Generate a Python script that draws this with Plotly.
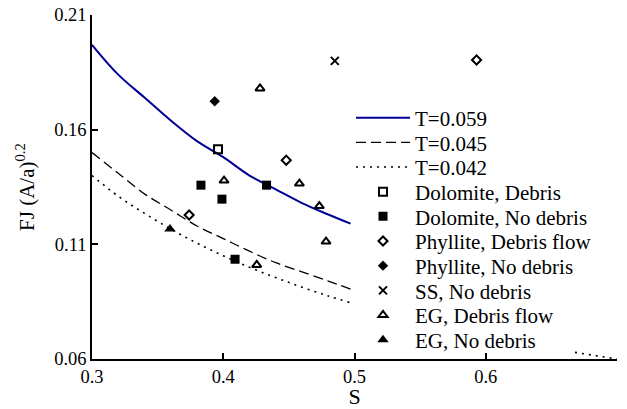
import plotly.graph_objects as go

# ---- data ----
S_curve = [0.300, 0.320, 0.340, 0.360, 0.380, 0.400, 0.420, 0.440, 0.460, 0.480, 0.497]
FJ_T059 = [0.197, 0.184, 0.174, 0.164, 0.155, 0.148, 0.140, 0.134, 0.128, 0.123, 0.119]
FJ_T045 = [0.150, 0.141, 0.132, 0.125, 0.118, 0.1125, 0.107, 0.102, 0.098, 0.094, 0.0905]
S_T042 = [0.300, 0.320, 0.340, 0.360, 0.380, 0.400, 0.420, 0.440, 0.460, 0.480, 0.497, None, 0.668, 0.700]
FJ_T042 = [0.140, 0.131, 0.1235, 0.1167, 0.1105, 0.105, 0.100, 0.0955, 0.0913, 0.0875, 0.0845, None, 0.0629, 0.0600]

dol_deb_S = [0.396]
dol_deb_FJ = [0.1515]
dol_nod_S = [0.383, 0.433, 0.399, 0.409]
dol_nod_FJ = [0.1358, 0.1358, 0.1297, 0.1035]
phy_deb_S = [0.448, 0.374, 0.593]
phy_deb_FJ = [0.1467, 0.1228, 0.1904]
phy_nod_S = [0.3935]
phy_nod_FJ = [0.1724]
ss_nod_S = [0.485]
ss_nod_FJ = [0.190]
eg_deb_S = [0.428, 0.4006, 0.458, 0.4732, 0.4783, 0.4255]
eg_deb_FJ = [0.178, 0.1378, 0.1365, 0.1267, 0.1112, 0.101]
eg_nod_S = [0.3594]
eg_nod_FJ = [0.1167]

x_ticks = [0.3, 0.4, 0.5, 0.6, 0.7]
y_ticks = [0.06, 0.11, 0.16, 0.21]

FONT = "Liberation Serif"
BLUE = "#000096"

fig = go.Figure()

legend_ids = ["legend"] + ["legend%d" % i for i in range(2, 11)]

series = [
    dict(x=S_curve, y=FJ_T059, name="T=0.059", mode="lines",
         line=dict(color=BLUE, width=2, shape="spline")),
    dict(x=S_curve, y=FJ_T045, name="T=0.045", mode="lines",
         line=dict(color="black", width=1.3, dash="10px,5px", shape="spline")),
    dict(x=S_T042, y=FJ_T042, name="T=0.042", mode="lines",
         line=dict(color="black", width=1.6, dash="2px,5px", shape="spline")),
    dict(x=dol_deb_S, y=dol_deb_FJ, name="Dolomite, Debris", mode="markers",
         marker=dict(symbol="square-open", size=8, color="black", line=dict(width=2, color="black"))),
    dict(x=dol_nod_S, y=dol_nod_FJ, name="Dolomite, No debris", mode="markers",
         marker=dict(symbol="square", size=9, color="black")),
    dict(x=phy_deb_S, y=phy_deb_FJ, name="Phyllite, Debris flow", mode="markers",
         marker=dict(symbol="diamond-open", size=7, color="black", line=dict(width=2, color="black"))),
    dict(x=phy_nod_S, y=phy_nod_FJ, name="Phyllite, No debris", mode="markers",
         marker=dict(symbol="diamond", size=8, color="black")),
    dict(x=ss_nod_S, y=ss_nod_FJ, name="SS, No debris", mode="markers",
         marker=dict(symbol="x-thin", size=8, color="black", line=dict(width=2, color="black"))),
    dict(x=eg_deb_S, y=eg_deb_FJ, name="EG, Debris flow", mode="markers",
         marker=dict(symbol="triangle-up-open", size=8, color="black", line=dict(width=2, color="black"))),
    dict(x=eg_nod_S, y=eg_nod_FJ, name="EG, No debris", mode="markers",
         marker=dict(symbol="triangle-up", size=10, color="black")),
]

for s, lid in zip(series, legend_ids):
    fig.add_trace(go.Scatter(**s, legend=lid, connectgaps=False, cliponaxis=False))

# plot area geometry (px)
W, H = 627, 409
ML, MR, MT, MB = 92, 10, 15, 50
pw, ph = W - ML - MR, H - MT - MB

legend_left_px = 351
first_item_px = 118
item_step_px = 24.67

layout_legends = {}
for i, lid in enumerate(legend_ids):
    ypx = first_item_px + i * item_step_px
    layout_legends[lid] = dict(
        x=(legend_left_px - ML) / pw, xanchor="left",
        y=(H - MB - ypx) / ph, yanchor="middle",
        bgcolor="rgba(0,0,0,0)", borderwidth=0,
        itemwidth=54,
        font=dict(family=FONT, size=21, color="black"),
    )

fig.update_layout(
    width=W, height=H,
    margin=dict(l=ML, r=MR, t=MT, b=MB, autoexpand=False),
    paper_bgcolor="white", plot_bgcolor="white",
    font=dict(family=FONT, color="black"),
    showlegend=True,
    **layout_legends,
)

fig.update_xaxes(
    range=[0.3, 0.7], tickvals=x_ticks, ticktext=[str(v) for v in x_ticks],
    showgrid=False, zeroline=False, showline=True, linecolor="black", linewidth=1.5,
    ticks="inside", ticklen=6, tickcolor="black", tickwidth=1.5,
    tickfont=dict(family=FONT, size=18.5, color="black"),
    title=dict(text="S", font=dict(family=FONT, size=22, color="black"), standoff=2),
    automargin=False,
)
fig.update_yaxes(
    range=[0.06, 0.21], tickvals=y_ticks, ticktext=["%.2f" % v for v in y_ticks],
    showgrid=False, zeroline=False, showline=True, linecolor="black", linewidth=1.5,
    ticks="inside", ticklen=6, tickcolor="black", tickwidth=1.5,
    tickfont=dict(family=FONT, size=18.5, color="black"),
    title=dict(text="FJ (A/a)<sup>0.2</sup>", font=dict(family=FONT, size=21, color="black"), standoff=14),
    automargin=False,
)

fig.write_html("out.html")
